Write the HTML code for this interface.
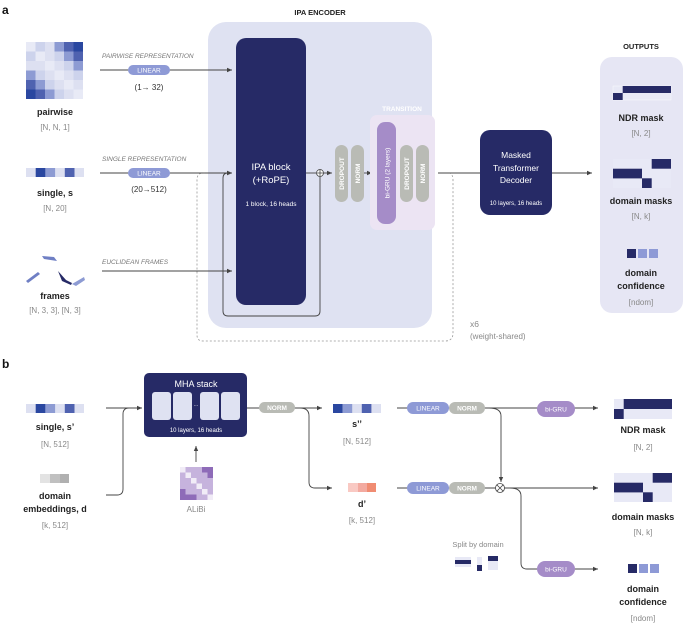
<!DOCTYPE html>
<html><head><meta charset="utf-8"><style>
html,body{margin:0;padding:0;background:#fff}
svg{display:block;font-family:"Liberation Sans",sans-serif}
.b{font-weight:bold;font-size:9px;fill:#222;text-anchor:middle}
.g{font-size:8px;fill:#888;text-anchor:middle}
.it{font-size:6.5px;fill:#777;font-style:italic}
.pl{font-size:6.5px;fill:#fff;text-anchor:middle}
.w{fill:#fff;text-anchor:middle}
.ln{stroke:#444;stroke-width:0.9;fill:none}
.ds{stroke:#999;stroke-width:0.8;fill:none;stroke-dasharray:2,2}
</style></head><body>
<svg width="685" height="624" viewBox="0 0 685 624" xmlns="http://www.w3.org/2000/svg">
<defs><marker id="ar" markerWidth="6" markerHeight="6" refX="5" refY="3" orient="auto" markerUnits="userSpaceOnUse"><path d="M0,0.8 L5,3 L0,5.2z" fill="#444"/></marker></defs>
<text x="2" y="14" font-size="12" font-weight="bold" fill="#111">a</text>
<text x="320" y="15" font-size="7.5" font-weight="bold" fill="#222" text-anchor="middle">IPA ENCODER</text>
<rect x="208" y="22" width="224" height="306" rx="18" fill="#dfe2f2"/>
<rect x="236" y="38" width="70" height="267" rx="10" fill="#262a66"/>
<text x="271" y="170" class="w" font-size="9.5">IPA block</text>
<text x="271" y="183" class="w" font-size="9.5">(+RoPE)</text>
<text x="271" y="206" class="w" font-size="6.5">1 block, 16 heads</text>
<!-- pairwise -->
<g>
<rect x="26" y="42" width="57" height="57" fill="#e8eaf6"/>
<rect x="35.5" y="42" width="9.5" height="9.5" fill="#cdd3ec"/><rect x="45" y="42" width="9.5" height="9.5" fill="#dde0f1"/><rect x="54.5" y="42" width="9.5" height="9.5" fill="#8d9bd3"/><rect x="64" y="42" width="9.5" height="9.5" fill="#4f62b0"/><rect x="73.5" y="42" width="9.5" height="9.5" fill="#2a47a0"/>
<rect x="26" y="51.5" width="9.5" height="9.5" fill="#cdd3ec"/><rect x="45" y="51.5" width="9.5" height="9.5" fill="#dde0f1"/><rect x="54.5" y="51.5" width="9.5" height="9.5" fill="#cdd3ec"/><rect x="64" y="51.5" width="9.5" height="9.5" fill="#8d9bd3"/><rect x="73.5" y="51.5" width="9.5" height="9.5" fill="#4f62b0"/>
<rect x="26" y="61" width="9.5" height="9.5" fill="#dde0f1"/><rect x="35.5" y="61" width="9.5" height="9.5" fill="#dde0f1"/><rect x="54.5" y="61" width="9.5" height="9.5" fill="#dde0f1"/><rect x="64" y="61" width="9.5" height="9.5" fill="#cdd3ec"/><rect x="73.5" y="61" width="9.5" height="9.5" fill="#8d9bd3"/>
<rect x="26" y="70.5" width="9.5" height="9.5" fill="#8d9bd3"/><rect x="35.5" y="70.5" width="9.5" height="9.5" fill="#cdd3ec"/><rect x="45" y="70.5" width="9.5" height="9.5" fill="#dde0f1"/><rect x="64" y="70.5" width="9.5" height="9.5" fill="#dde0f1"/><rect x="73.5" y="70.5" width="9.5" height="9.5" fill="#cdd3ec"/>
<rect x="26" y="80" width="9.5" height="9.5" fill="#4f62b0"/><rect x="35.5" y="80" width="9.5" height="9.5" fill="#8d9bd3"/><rect x="45" y="80" width="9.5" height="9.5" fill="#cdd3ec"/><rect x="54.5" y="80" width="9.5" height="9.5" fill="#dde0f1"/><rect x="73.5" y="80" width="9.5" height="9.5" fill="#dde0f1"/>
<rect x="26" y="89.5" width="9.5" height="9.5" fill="#2a47a0"/><rect x="35.5" y="89.5" width="9.5" height="9.5" fill="#4f62b0"/><rect x="45" y="89.5" width="9.5" height="9.5" fill="#8d9bd3"/><rect x="54.5" y="89.5" width="9.5" height="9.5" fill="#cdd3ec"/><rect x="64" y="89.5" width="9.5" height="9.5" fill="#dde0f1"/>
</g>
<text x="55" y="115" class="b">pairwise</text>
<text x="55" y="130" class="g">[N, N, 1]</text>
<text x="102" y="58" class="it">PAIRWISE REPRESENTATION</text>
<line x1="100" y1="70" x2="232" y2="70" class="ln" marker-end="url(#ar)"/>
<rect x="128" y="65" width="42" height="10" rx="5" fill="#8e9ad6"/><text x="149" y="72.5" class="pl">LINEAR</text>
<text x="149" y="90" class="g" fill="#333" style="fill:#333">(1→ 32)</text>
<!-- single -->
<rect x="26" y="168" width="58" height="9" fill="#dde0f1"/>
<rect x="35.7" y="168" width="9.7" height="9" fill="#2a47a0"/><rect x="45.4" y="168" width="9.7" height="9" fill="#8d9bd3"/><rect x="64.8" y="168" width="9.7" height="9" fill="#4f62b0"/>
<text x="55" y="196" class="b">single, s</text>
<text x="55" y="211" class="g">[N, 20]</text>
<text x="102" y="161" class="it">SINGLE REPRESENTATION</text>
<line x1="100" y1="173" x2="232" y2="173" class="ln" marker-end="url(#ar)"/>
<rect x="128" y="168" width="42" height="10" rx="5" fill="#8e9ad6"/><text x="149" y="175.5" class="pl">LINEAR</text>
<text x="149" y="192" class="g" style="fill:#333">(20→512)</text>
<!-- frames -->
<g fill="#6f7fc4">
<path d="M42,256 L54,257 L57,261 L44,259z"/>
<path d="M26,281 L38,272 L40,274 L28,283z"/>
<path d="M58,271 L66,280 L72,283 L71,285 L62,281z" fill="#262a66"/>
<path d="M72,284 L84,277 L85,280 L76,286z" fill="#8d9bd3"/>
</g>
<text x="55" y="299" class="b">frames</text>
<text x="55" y="313" class="g">[N, 3, 3], [N, 3]</text>
<text x="102" y="264" class="it">EUCLIDEAN FRAMES</text>
<line x1="102" y1="271" x2="232" y2="271" class="ln" marker-end="url(#ar)"/>
<!-- residual loop -->
<path d="M232,173 L228,173 Q223,173 223,178 L223,311 Q223,316 228,316 L315,316 Q320,316 320,311 L320,177" class="ln"/>
<line x1="224" y1="173" x2="232" y2="173" class="ln" marker-end="url(#ar)"/>
<line x1="306" y1="173" x2="316" y2="173" class="ln"/>
<circle cx="320" cy="173" r="3.5" fill="#fff" stroke="#444" stroke-width="0.8"/>
<path d="M316.5,173 h7 M320,169.5 v7" stroke="#444" stroke-width="0.8"/>
<line x1="323.5" y1="173" x2="332" y2="173" class="ln" marker-end="url(#ar)"/>
<!-- dashed loop -->
<path d="M205,173 L203,173 Q197,173 197,180 L197,335 Q197,341 203,341 L445,341 Q453,341 453,333 L453,180 Q453,175 450,173" class="ds"/>
<line x1="200" y1="173" x2="206" y2="173" class="ln" stroke="#999"/>
<text x="470" y="327" font-size="8.5" fill="#888">x6</text>
<text x="470" y="339" font-size="8" fill="#888">(weight-shared)</text>
<!-- dropout/norm -->
<rect x="335" y="145" width="13" height="57" rx="6.5" fill="#b9bbb5"/>
<rect x="351" y="145" width="13" height="57" rx="6.5" fill="#b9bbb5"/>
<text transform="translate(344,173.5) rotate(-90)" class="pl" font-size="5.5" font-weight="bold">DROPOUT</text>
<text transform="translate(360,173.5) rotate(-90)" class="pl" font-size="5.5" font-weight="bold">NORM</text>
<line x1="364" y1="173" x2="372" y2="173" class="ln" marker-end="url(#ar)"/>
<rect x="370" y="115" width="65" height="115" rx="7" fill="#ece4f3"/>
<text x="402" y="111" font-size="6.5" font-weight="bold" fill="#fff" text-anchor="middle">TRANSITION</text>
<rect x="377" y="122" width="19" height="102" rx="8" fill="#a58cc8"/>
<text transform="translate(389.5,173) rotate(-90)" class="pl" font-size="7.5">bi-GRU (2 layers)</text>
<rect x="400" y="145" width="13" height="57" rx="6.5" fill="#b9bbb5"/>
<rect x="416" y="145" width="13" height="57" rx="6.5" fill="#b9bbb5"/>
<text transform="translate(409,173.5) rotate(-90)" class="pl" font-size="5.5" font-weight="bold">DROPOUT</text>
<text transform="translate(425,173.5) rotate(-90)" class="pl" font-size="5.5" font-weight="bold">NORM</text>
<line x1="438" y1="173" x2="480" y2="173" class="ln"/>
<rect x="480" y="130" width="72" height="85" rx="10" fill="#262a66"/>
<text x="516" y="158" class="w" font-size="8.5">Masked</text>
<text x="516" y="171" class="w" font-size="8.5">Transformer</text>
<text x="516" y="183" class="w" font-size="8.5">Decoder</text>
<text x="516" y="205" class="w" font-size="6">10 layers, 16 heads</text>
<line x1="552" y1="173" x2="592" y2="173" class="ln" marker-end="url(#ar)"/>
<!-- outputs a -->
<text x="641" y="49" font-size="7.5" font-weight="bold" fill="#222" text-anchor="middle">OUTPUTS</text>
<rect x="600" y="57" width="83" height="256" rx="12" fill="#e6e6f4"/>
<rect x="613" y="86" width="58" height="14" fill="#e8e9f6" stroke="#fff" stroke-width="0.4"/>
<rect x="622.7" y="86" width="48.3" height="7" fill="#262a66"/><rect x="613" y="93" width="9.7" height="7" fill="#262a66"/>
<text x="641" y="121" class="b">NDR mask</text><text x="641" y="136" class="g">[N, 2]</text>
<rect x="613" y="159" width="58" height="29" fill="#e8e9f6"/>
<rect x="651.7" y="159" width="19.3" height="9.7" fill="#262a66"/><rect x="613" y="168.7" width="29" height="9.7" fill="#262a66"/><rect x="642" y="178.3" width="9.7" height="9.7" fill="#262a66"/>
<text x="641" y="204" class="b">domain masks</text><text x="641" y="219" class="g">[N, k]</text>
<rect x="627" y="249" width="9" height="9" fill="#262a66"/><rect x="638" y="249" width="9" height="9" fill="#8e9ad6"/><rect x="649" y="249" width="9" height="9" fill="#8e9ad6"/>
<text x="641" y="276" class="b">domain</text><text x="641" y="289" class="b">confidence</text><text x="641" y="305" class="g">[ndom]</text>

<!-- panel b -->
<text x="2" y="368" font-size="12" font-weight="bold" fill="#111">b</text>
<rect x="144" y="373" width="103" height="64" rx="5" fill="#262a66"/>
<text x="196" y="387" class="w" font-size="9">MHA stack</text>
<rect x="152" y="392" width="19" height="28" rx="3" fill="#dfe2f2"/><rect x="173" y="392" width="19" height="28" rx="3" fill="#dfe2f2"/>
<rect x="200" y="392" width="19" height="28" rx="3" fill="#dfe2f2"/><rect x="221" y="392" width="19" height="28" rx="3" fill="#dfe2f2"/>
<text x="196" y="406" class="w" font-size="5">...</text>
<text x="196" y="432" class="w" font-size="6">10 layers, 16 heads</text>
<rect x="26" y="404" width="58" height="9" fill="#dde0f1"/>
<rect x="35.7" y="404" width="9.7" height="9" fill="#2a47a0"/><rect x="45.4" y="404" width="9.7" height="9" fill="#8d9bd3"/><rect x="64.8" y="404" width="9.7" height="9" fill="#4f62b0"/>
<text x="55" y="430" class="b">single, s’</text><text x="55" y="447" class="g">[N, 512]</text>
<line x1="106" y1="408" x2="142" y2="408" class="ln" marker-end="url(#ar)"/>
<rect x="40" y="474" width="10" height="9" fill="#e3e3e3"/><rect x="50" y="474" width="10" height="9" fill="#c0c0c0"/><rect x="60" y="474" width="9" height="9" fill="#b0b0b0"/>
<text x="55" y="499" class="b">domain</text><text x="55" y="512" class="b">embeddings, d</text><text x="55" y="528" class="g">[k, 512]</text>
<path d="M106,495 L117,495 Q123,495 123,489 L123,414 Q123,408 129,408 L142,408" class="ln"/>
<!-- alibi -->
<g>
<rect x="180" y="467" width="33" height="33" fill="#c6b3dd"/>
<rect x="180" y="467" width="5.5" height="5.5" fill="#f1ecf7"/><rect x="185.5" y="472.5" width="5.5" height="5.5" fill="#f1ecf7"/><rect x="191" y="478" width="5.5" height="5.5" fill="#f1ecf7"/><rect x="196.5" y="483.5" width="5.5" height="5.5" fill="#f1ecf7"/><rect x="202" y="489" width="5.5" height="5.5" fill="#f1ecf7"/><rect x="207.5" y="494.5" width="5.5" height="5.5" fill="#f1ecf7"/>
<rect x="202" y="467" width="11" height="5.5" fill="#8e6bb8"/><rect x="207.5" y="472.5" width="5.5" height="5.5" fill="#8e6bb8"/>
<rect x="180" y="494.5" width="16.5" height="5.5" fill="#8e6bb8"/><rect x="180" y="489" width="5.5" height="5.5" fill="#8e6bb8"/>
</g>
<text x="196" y="512" class="g">ALiBi</text>
<line x1="196" y1="462" x2="196" y2="446" class="ln" stroke-width="0.6" marker-end="url(#ar)"/>
<line x1="247" y1="408" x2="322" y2="408" class="ln" marker-end="url(#ar)"/>
<rect x="259" y="402" width="36" height="11" rx="5.5" fill="#b9bbb5"/><text x="277" y="410" class="pl" font-size="6" font-weight="bold">NORM</text>
<path d="M300,408 Q309,408 309,416 L309,482 Q309,488 315,488 L332,488" class="ln" marker-end="url(#ar)"/>
<!-- s'' -->
<rect x="333" y="404" width="48" height="9" fill="#dde0f1"/>
<rect x="333" y="404" width="9.6" height="9" fill="#2a47a0"/><rect x="342.6" y="404" width="9.6" height="9" fill="#8d9bd3"/><rect x="361.8" y="404" width="9.6" height="9" fill="#4f62b0"/>
<text x="357" y="427" class="b">s’’</text><text x="357" y="444" class="g">[N, 512]</text>
<rect x="348" y="483" width="10" height="9" fill="#f9c9c3"/><rect x="358" y="483" width="9" height="9" fill="#f3aaa0"/><rect x="367" y="483" width="9" height="9" fill="#f08c72"/>
<text x="362" y="507" class="b">d’</text><text x="362" y="523" class="g">[k, 512]</text>
<!-- top row -->
<line x1="397" y1="408" x2="598" y2="408" class="ln" marker-end="url(#ar)"/>
<rect x="407" y="402" width="42" height="12" rx="6" fill="#8e9ad6"/><text x="428" y="410.5" class="pl" font-size="7">LINEAR</text>
<rect x="449" y="402" width="36" height="12" rx="6" fill="#b9bbb5"/><text x="467" y="410.5" class="pl" font-size="6" font-weight="bold">NORM</text>
<path d="M489,408 Q501,408 501,416 L501,482" class="ln" marker-end="url(#ar)"/>
<rect x="537" y="401" width="38" height="16" rx="8" fill="#a58cc8"/><text x="556" y="411.5" class="pl" font-size="7.5">bi-GRU</text>
<!-- bottom row -->
<line x1="397" y1="488" x2="496" y2="488" class="ln"/>
<line x1="504" y1="488" x2="598" y2="488" class="ln" marker-end="url(#ar)"/>
<rect x="407" y="482" width="42" height="12" rx="6" fill="#8e9ad6"/><text x="428" y="490.5" class="pl" font-size="7">LINEAR</text>
<rect x="449" y="482" width="36" height="12" rx="6" fill="#b9bbb5"/><text x="467" y="490.5" class="pl" font-size="6" font-weight="bold">NORM</text>
<circle cx="500" cy="488" r="4.5" fill="#fff" stroke="#444" stroke-width="0.8"/>
<path d="M497,485 l6,6 M503,485 l-6,6" stroke="#444" stroke-width="0.8"/>
<path d="M510,488 Q521,488 521,496 L521,563 Q521,569 527,569 L598,569" class="ln" marker-end="url(#ar)"/>
<rect x="537" y="561" width="38" height="16" rx="8" fill="#a58cc8"/><text x="556" y="571.5" class="pl" font-size="7.5">bi-GRU</text>
<text x="478" y="547" font-size="7.5" fill="#888" text-anchor="middle">Split by domain</text>
<rect x="455" y="557" width="16" height="10" fill="#e8e9f6"/><rect x="455" y="560" width="16" height="4" fill="#262a66"/>
<rect x="477" y="557" width="5" height="14" fill="#e8e9f6"/><rect x="477" y="565" width="5" height="6" fill="#262a66"/>
<rect x="488" y="556" width="10" height="14" fill="#e8e9f6"/><rect x="488" y="556" width="10" height="5" fill="#262a66"/>
<!-- outputs b -->
<rect x="614" y="399" width="58" height="20" fill="#e8e9f6"/>
<rect x="623.7" y="399" width="48.3" height="10" fill="#262a66"/><rect x="614" y="409" width="9.7" height="10" fill="#262a66"/>
<text x="643" y="433" class="b">NDR mask</text><text x="643" y="450" class="g">[N, 2]</text>
<rect x="614" y="473" width="58" height="29" fill="#e8e9f6"/>
<rect x="652.7" y="473" width="19.3" height="9.7" fill="#262a66"/><rect x="614" y="482.7" width="29" height="9.7" fill="#262a66"/><rect x="643" y="492.3" width="9.7" height="9.7" fill="#262a66"/>
<text x="643" y="520" class="b">domain masks</text><text x="643" y="535" class="g">[N, k]</text>
<rect x="628" y="564" width="9" height="9" fill="#262a66"/><rect x="639" y="564" width="9" height="9" fill="#8e9ad6"/><rect x="650" y="564" width="9" height="9" fill="#8e9ad6"/>
<text x="643" y="592" class="b">domain</text><text x="643" y="605" class="b">confidence</text><text x="643" y="621" class="g">[ndom]</text>
</svg>
</body></html>
